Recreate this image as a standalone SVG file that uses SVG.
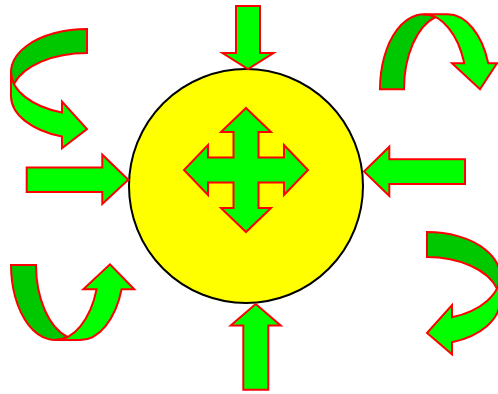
<svg xmlns="http://www.w3.org/2000/svg" width="498" height="394" viewBox="0 0 498 394">
<style>
.lt{fill:#00FF00;stroke:#FF0000;stroke-width:2;stroke-linejoin:miter}
.dk{fill:#00C800;stroke:#FF0000;stroke-width:2;stroke-linejoin:miter}
.circ{fill:#FFFF00;stroke:#000000;stroke-width:2}
</style>
<rect width="498" height="394" fill="#FFFFFF"/>
<g id="circle"><circle class="circ" cx="246" cy="186" r="117"/></g>
<g id="cross"><polygon class="lt" points="246,108 271,132 258.5,132 258.5,157.5 284,157.5 284,145 308,170 284,195 284,182.5 258.5,182.5 258.5,208 271,208 246,232 221,208 233.5,208 233.5,182.5 208,182.5 208,195 184,170 208,145 208,157.5 233.5,157.5 233.5,132 221,132"/></g>
<g id="arrow-top"><polygon class="lt" points="236,6 260,6 260,53 273.5,53 248,69 222.5,53 236,53"/></g>
<g id="arrow-bottom"><polygon class="lt" points="255.7,304 280.7,325.5 268.3,325.5 268.3,389.7 243.3,389.7 243.3,325.5 230.7,325.5"/></g>
<g id="arrow-left"><polygon class="lt" points="26.7,167.5 102.3,167.5 102.3,154.7 128.3,179.7 102.3,204 102.3,192 26.7,192"/></g>
<g id="arrow-right"><polygon class="lt" points="364,171.5 389.3,146.7 389.3,159.3 465,159.3 465,184 389.3,184 389.3,196"/></g>
<g id="curved-top-left">
<path class="dk" d="M87,29 A76,43 0 0 0 14,84 A76,43 0 0 1 87,53 Z"/>
<path class="lt" d="M11,72 A76,43 0 0 0 62,112.6 L62,101.6 L87,129 L62,148.3 L62,136.6 A76,43 0 0 1 11,96 Z"/>
</g>
<g id="curved-top-right">
<path class="dk" d="M380,89.3 A43.5,75 0 0 1 435.5,17.2 A43.5,75 0 0 0 404,89.3 Z"/>
<path class="lt" d="M423.5,14.3 A43.5,75 0 0 1 464.3,63.3 L452,63.3 L480,89.3 L497,63.3 L488.3,63.3 A43.5,75 0 0 0 447.5,14.3 Z"/>
</g>
<g id="curved-bottom-left">
<path class="dk" d="M11,265 A44,75 0 0 0 67.5,336.9 A44,75 0 0 1 36,265 Z"/>
<path class="lt" d="M55,340 A44,75 0 0 0 96.6,289.3 L83.3,289.3 L110,264.3 L134.3,289.3 L121.6,289.3 A44,75 0 0 1 80,340 Z"/>
</g>
<g id="curved-bottom-right">
<path class="dk" d="M427,232 A73,44 0 0 1 497,288.5 A73,44 0 0 0 427,257 Z"/>
<path class="lt" d="M500,276 A73,44 0 0 1 452,317.3 L452,305 L427,333 L452,354.3 L452,342.3 A73,44 0 0 0 500,301 Z"/>
</g>
</svg>
